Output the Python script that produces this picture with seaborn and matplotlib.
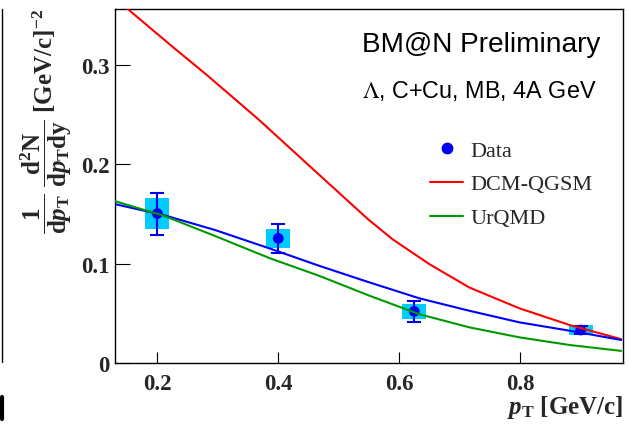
import numpy as np
import pandas as pd
import matplotlib
matplotlib.use("Agg")
import matplotlib.pyplot as plt
import seaborn as sns
from matplotlib.lines import Line2D

# ---- data ----
pt = [0.2, 0.4, 0.625, 0.9]
yield_vals = [0.1505, 0.1255, 0.0520, 0.0332]
stat_err = [0.0212, 0.0143, 0.0105, 0.0040]
sys_err = [0.0160, 0.0092, 0.0072, 0.0054]

dcm_x = [0.13, 0.15, 0.23, 0.28, 0.366, 0.474, 0.548, 0.589, 0.65, 0.664, 0.716, 0.799, 0.882, 0.967]
dcm_y = [0.367, 0.357, 0.316, 0.291, 0.246, 0.186, 0.145, 0.1246, 0.0995, 0.0945, 0.076, 0.055, 0.0382, 0.024]

fit_x = [0.13, 0.212, 0.295, 0.386, 0.468, 0.551, 0.634, 0.716, 0.799, 0.882, 0.967]
fit_y = [0.160, 0.1487, 0.134, 0.1153, 0.0978, 0.0811, 0.065, 0.0526, 0.0409, 0.0325, 0.0232]

urqmd_x = [0.13, 0.212, 0.295, 0.386, 0.468, 0.551, 0.634, 0.716, 0.799, 0.882, 0.967]
urqmd_y = [0.163, 0.148, 0.128, 0.1055, 0.0877, 0.0677, 0.049, 0.0359, 0.0258, 0.0181, 0.0122]

x_ticks = [0.2, 0.4, 0.6, 0.8]
x_ticklabels = ["0.2", "0.4", "0.6", "0.8"]
y_ticks = [0.0, 0.1, 0.2, 0.3]
y_ticklabels = ["0", "0.1", "0.2", "0.3"]

sns.set_theme(style="white")
plt.rcParams["font.family"] = ["Liberation Serif", "DejaVu Serif"]
plt.rcParams["mathtext.fontset"] = "custom"
plt.rcParams["mathtext.rm"] = "Liberation Serif:bold"
plt.rcParams["mathtext.bf"] = "Liberation Serif:bold"
plt.rcParams["mathtext.it"] = "Liberation Serif:italic:bold"

W, H = 629, 427
fig = plt.figure(figsize=(W / 100, H / 100), dpi=100)
ax = fig.add_axes([115 / W, 1 - 364 / H, (623 - 115) / W, (364 - 10) / H])

blue = "#0000ee"
cyan = "#00ccff"

# systematic boxes
ax.bar(pt, [2 * s for s in sys_err], bottom=[v - s for v, s in zip(yield_vals, sys_err)],
       width=0.04, color=cyan, linewidth=0, zorder=1)
# statistical error bars
ax.errorbar(pt, yield_vals, yerr=stat_err, fmt="none", ecolor=blue, elinewidth=1.5,
            capsize=4.7, capthick=1.5, zorder=2)
# data points
sns.scatterplot(x=pt, y=yield_vals, color=blue, s=60, edgecolor="none", zorder=3, ax=ax)

# model curves
sns.lineplot(x=dcm_x, y=dcm_y, color="#ff0000", linewidth=1.5, sort=False, estimator=None, zorder=4, ax=ax)
sns.lineplot(x=fit_x, y=fit_y, color="#0000ff", linewidth=1.5, sort=False, estimator=None, zorder=4, ax=ax)
sns.lineplot(x=urqmd_x, y=urqmd_y, color="#009900", linewidth=1.5, sort=False, estimator=None, zorder=4, ax=ax)

ax.set_xlim(0.13, 0.97)
ax.set_ylim(0.0, 0.3565)
ax.set_xticks(x_ticks)
ax.set_xticklabels(x_ticklabels)
ax.set_yticks(y_ticks)
ax.set_yticklabels(y_ticklabels)
for lab in ax.get_xticklabels() + ax.get_yticklabels():
    lab.set_fontweight("bold")
    lab.set_fontsize(16.5)
    lab.set_family("Liberation Serif")
ax.tick_params(axis="x", direction="in", length=8, width=0.8, color="black", pad=7, bottom=True, top=False)
ax.tick_params(axis="y", direction="in", length=11, width=0.8, color="black", pad=4, left=True, right=False)
for sp in ax.spines.values():
    sp.set_visible(True)
    sp.set_color("black")
    sp.set_linewidth(1.0)
ax.set_xlabel("")
ax.set_ylabel("")

# legend
handles = [
    Line2D([], [], marker="o", linestyle="none", color=blue, markersize=7.5),
    Line2D([], [], color="#ff0000", linewidth=1.5),
    Line2D([], [], color="#009900", linewidth=1.5),
]
ax.legend(handles, ["Data", "DCM-QGSM", "UrQMD"], loc="upper left",
          bbox_to_anchor=(430 / W, 1 - 141 / H), bbox_transform=fig.transFigure,
          frameon=False, handlelength=1.5, handletextpad=0.33,
          labelspacing=0.6, borderpad=0, borderaxespad=0,
          prop={"family": "Liberation Serif", "size": 16})

# annotations
fig.text(362 / W, 1 - 45 / H, "BM@N Preliminary", family="Liberation Sans",
         fontsize=20.2, ha="left", va="center", color="black")
fig.text(362 / W, 1 - 91 / H, r"$\Lambda$, C+Cu, MB, 4A GeV", family="Liberation Sans",
         fontsize=16.8, ha="left", va="center", color="black", math_fontfamily="stix")

# axis titles
fig.text(623 / W, 1 - 408 / H, r"$p_{\mathrm{T}}$ [GeV/c]", family="Liberation Serif",
         fontweight="bold", fontsize=18, ha="right", va="center")
fig.text(46 / W, 1 - 9 / H,
         r"$\dfrac{1}{\mathrm{d}p_{\mathrm{T}}}\;\dfrac{\mathrm{d}^{2}\mathrm{N}}{\mathrm{d}p_{\mathrm{T}}\mathrm{dy}}$ [GeV/c]$^{-2}$",
         family="Liberation Serif", fontweight="bold", fontsize=18, rotation=90,
         ha="center", va="top")

# fragments of the neighbouring panel at the left edge
fig.add_artist(Line2D([1.5 / W, 1.5 / W], [1 - 10 / H, 1 - 363 / H], color="black", linewidth=1.0,
                      transform=fig.transFigure))
fig.add_artist(Line2D([1.5 / W, 1.5 / W], [1 - 398 / H, 1 - 420 / H], color="black", linewidth=3.0,
                      transform=fig.transFigure))

fig.savefig("out.png", dpi=100)
